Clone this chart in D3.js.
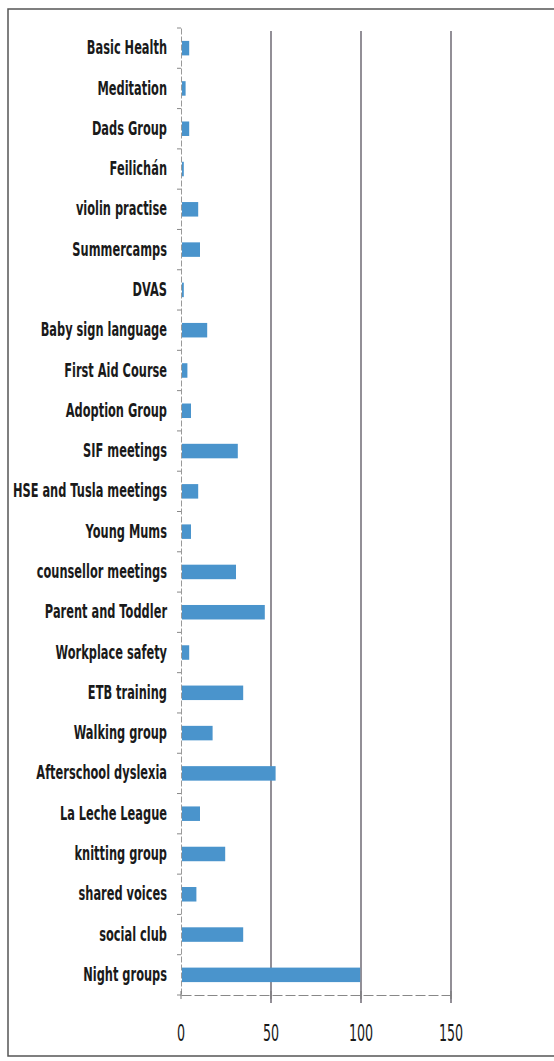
<!doctype html>
<html lang="en">
<head>
<meta charset="UTF-8">
<title>Activities</title>
<script src="https://d3js.org/d3.v7.min.js"></script>
<style>
  body { margin: 0; background: #fff; }
  svg text { font-family: "DejaVu Sans", sans-serif; fill: #1a1a1a; }
</style>
</head>
<body>
<div id="chart"></div>
<script>
var categories = ["Basic Health", "Meditation", "Dads Group", "Feilichán", "violin practise",
  "Summercamps", "DVAS", "Baby sign language", "First Aid Course", "Adoption Group",
  "SIF meetings", "HSE and Tusla meetings", "Young Mums", "counsellor meetings",
  "Parent and Toddler", "Workplace safety", "ETB training", "Walking group",
  "Afterschool dyslexia", "La Leche League", "knitting group", "shared voices",
  "social club", "Night groups"];
var values = [4, 2, 4, 1, 9, 10, 1, 14, 3, 5, 31, 9, 5, 30, 46, 4, 34, 17, 52, 10, 24, 8, 34, 99];
var ticks = [0, 50, 100, 150];

var W = 554, H = 1061;
var squeeze = 0.6;
var svg = d3.select("#chart").append("svg")
    .attr("width", W)
    .attr("height", H);

// scanned page frame
svg.append("rect")
    .attr("x", 8).attr("y", 9)
    .attr("width", W + 20).attr("height", H - 14)
    .attr("fill", "none")
    .attr("stroke", "#555")
    .attr("stroke-width", 1.5);

var x = d3.scaleLinear().domain([0, 150]).range([181, 451]);
var y = d3.scaleBand().domain(categories).range([28, 995]).paddingInner(0.64).paddingOuter(0.32);

// gridlines
svg.selectAll(".grid")
    .data(ticks.slice(1))
    .enter().append("line")
    .attr("x1", function(d) { return x(d); })
    .attr("x2", function(d) { return x(d); })
    .attr("y1", 31)
    .attr("y2", 1003)
    .attr("stroke", "#3a3340")
    .attr("stroke-width", 1.1);

// bars
svg.selectAll(".bar")
    .data(values)
    .enter().append("rect")
    .attr("x", x(0) + 1)
    .attr("y", function(d, i) { return y(categories[i]); })
    .attr("width", function(d) { return Math.max(x(d) - x(0), 1.5); })
    .attr("height", y.bandwidth())
    .attr("fill", "#4a94cc");

// y axis
var yAxis = svg.append("g")
    .attr("transform", "translate(" + x(0) + ",0)")
    .call(d3.axisLeft(y).tickSize(0).tickPadding(14));
yAxis.select(".domain").attr("stroke", "#999").attr("stroke-dasharray", "6,2");
yAxis.selectAll("text")
    .attr("font-size", "19px")
    .attr("font-weight", "bold")
    .attr("fill", "#1a1a1a")
    .attr("x", -14 / squeeze)
    .attr("transform", "scale(" + squeeze + ",1)");

// small ticks between the categories
var step = y.step();
yAxis.selectAll(".sep")
    .data(d3.range(categories.length + 1))
    .enter().append("line")
    .attr("x1", -4).attr("x2", 0)
    .attr("y1", function(i) { return y(categories[0]) - y.paddingInner() * step / 2 + i * step; })
    .attr("y2", function(i) { return y(categories[0]) - y.paddingInner() * step / 2 + i * step; })
    .attr("stroke", "#888");

// x axis
var xAxis = svg.append("g")
    .attr("transform", "translate(0,995)")
    .call(d3.axisBottom(x).tickValues(ticks).tickSize(8).tickPadding(22).tickSizeOuter(0));
xAxis.select(".domain").attr("stroke", "#888").attr("stroke-dasharray", "10,3");
xAxis.selectAll(".tick line").attr("stroke", "#777").attr("transform", "translate(0,-4)");
xAxis.selectAll(".tick text")
    .attr("font-size", "23px")
    .attr("fill", "#1a1a1a")
    .attr("transform", "scale(0.55,1)")
    .attr("x", 0);
xAxis.selectAll(".tick").attr("transform", function(d) { return "translate(" + x(d) + ",0)"; });
</script>
</body>
</html>
